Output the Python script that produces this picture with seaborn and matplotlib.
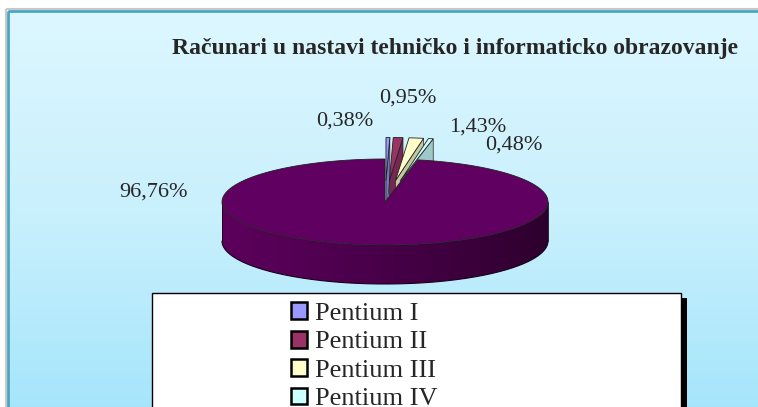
import numpy as np
import matplotlib
matplotlib.use("Agg")
import matplotlib.pyplot as plt
import matplotlib.colors as mcolors
from matplotlib.patches import Polygon, Rectangle, Patch
import seaborn as sns

# data
title = "Računari u nastavi tehničko i informaticko obrazovanje"
categories = ["Pentium I", "Pentium II", "Pentium III", "Pentium IV"]
values = [0.38, 0.95, 1.43, 0.48, 96.76]
slice_colors = ["#9999FF", "#993366", "#FFFFCC", "#CCFFFF", "#600060"]

# layout (pixels, y down)
W, H = 758, 407
cx, cy, rx, ry, depth = 385, 202, 163, 43, 39
explode = [0.5, 0.5, 0.5, 0.5, 0.0]
label_xy = [(345, 121), (408, 98), (478, 127), (514, 145), (153, 192)]

sns.set_theme(style="white")
plt.rcParams['font.family'] = ['Liberation Serif', 'DejaVu Serif']
palette = sns.color_palette(slice_colors)

fig = plt.figure(figsize=(W / 100, H / 100), dpi=100)
fig.patch.set_facecolor("white")
ax = fig.add_axes([0, 0, 1, 1])
ax.set_xlim(0, W)
ax.set_ylim(H, 0)
ax.axis("off")

# background panel with gradient
bg = mcolors.LinearSegmentedColormap.from_list("bg", ["#DDF7FF", "#C9F0FD", "#A4E5FB"])
grad = np.linspace(0, 1, 256)[:, None]
ax.imshow(grad, extent=(8, W + 20, H + 10, 11), cmap=bg, aspect="auto", zorder=0)
ax.add_patch(Rectangle((6, 9), W + 20, H + 20, fill=False, edgecolor="#c8c8c8", lw=1.5, zorder=1))
ax.add_patch(Rectangle((8, 11), W + 20, H + 20, fill=False, edgecolor="#48A6C0", lw=2, zorder=1))

ax.text(455, 54, title, ha="center", va="baseline", fontsize=17, fontweight="bold", zorder=5)

# 3d pie
vals = np.array(values)
cum = np.concatenate([[0], np.cumsum(vals / vals.sum())])
starts = np.deg2rad(90 - 360 * cum[:-1])
ends = np.deg2rad(90 - 360 * cum[1:])
mids = (starts + ends) / 2


def shade(col, s):
    return np.clip(np.array(col) * s, 0, 1)


def ring(phis, ox, oy, z):
    return np.column_stack([cx + ox + rx * np.cos(phis), cy + oy - ry * np.sin(phis) + z])


order = sorted(range(len(vals)), key=lambda i: -np.sin(mids[i]))
zo = 2
for i in order:
    a, b, m = starts[i], ends[i], mids[i]
    ox = rx * explode[i] * np.cos(m)
    oy = -ry * explode[i] * np.sin(m)
    col = palette[i]
    c_top = (cx + ox, cy + oy)
    c_bot = (cx + ox, cy + oy + depth)
    # radial walls
    for ang, vis in ((a, np.cos(a) < -1e-6), (b, np.cos(b) > 1e-6)):
        if vis:
            rt = ring(np.array([ang]), ox, oy, 0)[0]
            rb = ring(np.array([ang]), ox, oy, depth)[0]
            ax.add_patch(Polygon([c_top, rt, rb, c_bot], closed=True, facecolor=shade(col, 0.78),
                                 edgecolor="#202020", lw=0.5, zorder=zo))
    # outer wall, shaded left to right
    n = max(int(np.rad2deg(a - b)) * 2, 4)
    phis = np.linspace(b, a, n + 1)
    vis_ph = phis[np.sin(phis) <= 1e-9]
    if len(vis_ph) > 1:
        vis_ph = np.sort(vis_ph)
        wall = np.vstack([ring(vis_ph, ox, oy, 0), ring(vis_ph[::-1], ox, oy, depth)])
        wpoly = Polygon(wall, closed=True, facecolor="none", edgecolor="none", zorder=zo)
        ax.add_patch(wpoly)
        x0, x1 = wall[:, 0].min(), wall[:, 0].max()
        xs = np.linspace(x0, x1, 400)
        ph = -np.arccos(np.clip((xs - cx - ox) / rx, -1, 1))
        s = 0.7 + 0.25 * np.cos(ph - np.deg2rad(190))
        img = np.array([shade(col, k) for k in s])[None, :, :]
        im = ax.imshow(img, extent=(x0, x1, wall[:, 1].max(), wall[:, 1].min()),
                       aspect="auto", zorder=zo, interpolation="bilinear")
        im.set_clip_path(wpoly)
        bot = ring(vis_ph, ox, oy, depth)
        ax.plot(bot[:, 0], bot[:, 1], color="#1a001a", lw=0.8, zorder=zo)
        for p in (vis_ph[0], vis_ph[-1]):
            e = np.vstack([ring(np.array([p]), ox, oy, 0), ring(np.array([p]), ox, oy, depth)])
            ax.plot(e[:, 0], e[:, 1], color="#1a001a", lw=0.6, zorder=zo)
    # top face
    top = np.vstack([[c_top], ring(np.linspace(a, b, n + 1), ox, oy, 0)])
    ax.add_patch(Polygon(top, closed=True, facecolor=col, edgecolor="#202020", lw=0.6, zorder=zo))
    zo += 1

# data labels
for v, (x, y) in zip(values, label_xy):
    ax.text(x, y, f"{v:.2f}".replace(".", ",") + "%", ha="center", va="center",
            fontsize=16, zorder=6)

# legend box (cut off by the bottom edge)
ax.add_patch(Rectangle((158, 298), 529, 200, facecolor="black", edgecolor="none", zorder=7))
ax.add_patch(Rectangle((152, 293), 529, 200, facecolor="white", edgecolor="black", lw=1, zorder=8))
handles = [Patch(facecolor=palette[i], edgecolor="black", linewidth=1.8) for i in range(len(categories))]
leg = ax.legend(handles, categories, loc="upper left", bbox_to_anchor=(286 / W, 1 - 297 / H),
                frameon=False, fontsize=19, handlelength=0.6, handleheight=0.6,
                handletextpad=0.3, labelspacing=0.22, borderpad=0.2, borderaxespad=0)
leg.set_zorder(9)

fig.savefig("out.png", dpi=100)
